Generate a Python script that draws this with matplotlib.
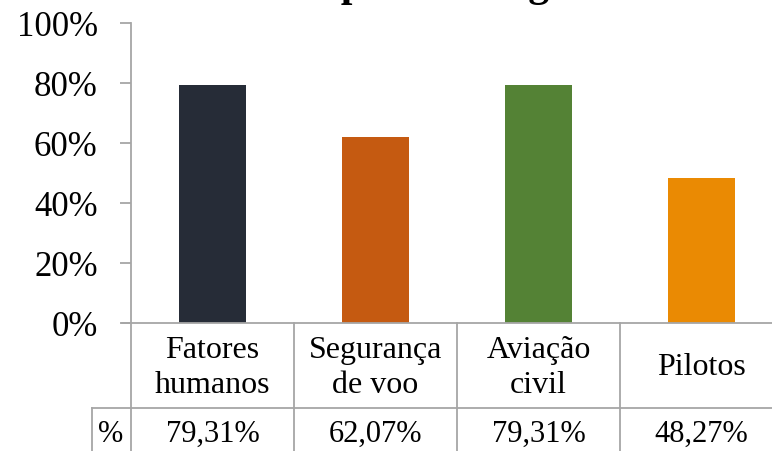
import matplotlib.pyplot as plt
from matplotlib.lines import Line2D

categories = ['Fatores\nhumanos', 'Segurança\nde voo', 'Aviação\ncivil', 'Pilotos']
values = [79.31, 62.07, 79.31, 48.27]
value_labels = ['79,31%', '62,07%', '79,31%', '48,27%']
colors = ['#262c37', '#c55a11', '#548235', '#ea8a03']
yticks = [0, 20, 40, 60, 80, 100]

plt.rcParams['font.family'] = ['Liberation Serif', 'DejaVu Serif']
W, H = 772, 452
fig = plt.figure(figsize=(W / 100, H / 100), dpi=100)

# plot area in pixels: y axis at x=131, one category = 163 px, 0% at y=324, 100% at y=24
x0, cw = 131, 163
ax = fig.add_axes([x0 / W, (H - 324) / H, 4 * cw / W, 300 / H])
ax.bar(range(4), values, width=0.405, color=colors)
ax.set_xlim(-0.5, 3.5)
ax.set_ylim(0, 100)
ax.set_yticks(yticks)
ax.set_yticklabels([f'{v}%' for v in yticks], fontsize=25)
ax.set_xticks([])
for s in ['top', 'right', 'bottom']:
    ax.spines[s].set_visible(False)
grey = '#a6a6a6'
ax.spines['left'].set_color(grey)
ax.spines['left'].set_linewidth(1.3)
ax.tick_params(axis='y', length=8, width=1.3, color=grey, pad=16)

# data table under the axis
def px(x, y):
    return x / W, (H - y) / H

line_kw = dict(color=grey, lw=1.3, transform=fig.transFigure)
xs = [x0 + cw * k for k in range(5)]
fig.add_artist(Line2D([px(122, 0)[0], px(xs[-1], 0)[0]], [px(0, 324)[1]] * 2, **line_kw))
fig.add_artist(Line2D([px(92, 0)[0], px(xs[-1], 0)[0]], [px(0, 409)[1]] * 2, **line_kw))
for xv in xs:
    fig.add_artist(Line2D([px(xv, 0)[0]] * 2, [px(0, 324)[1], 0], **line_kw))
fig.add_artist(Line2D([px(92, 0)[0]] * 2, [px(0, 409)[1], 0], **line_kw))

for i, (cat, lab) in enumerate(zip(categories, value_labels)):
    cx = x0 + cw * (i + 0.5)
    fig.text(*px(cx, 368), cat, ha='center', va='center', fontsize=23, linespacing=1.25)
    fig.text(*px(cx, 442), lab, ha='center', va='baseline', fontsize=22)
fig.text(*px(111, 442), '%', ha='center', va='baseline', fontsize=22)

# chart title, cropped at the top of the picture
fig.text(*px(74, -4), 'Conhecimento prévio em geral', ha='left', va='baseline',
         fontsize=30, fontweight='bold')

fig.savefig('out.png', dpi=100)
